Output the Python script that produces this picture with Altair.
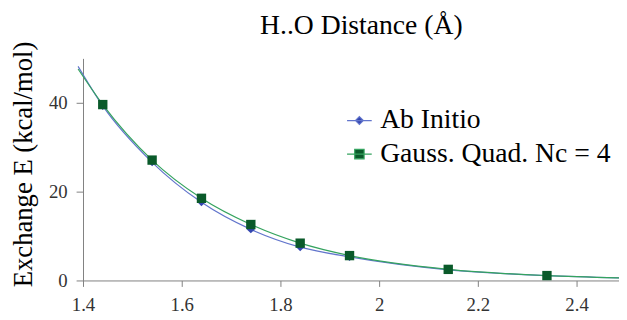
import altair as alt
import pandas as pd

# ---- data ----
x_points = [1.44, 1.54, 1.64, 1.74, 1.84, 1.94, 2.14, 2.34]
ab_initio = [39.3, 26.6, 17.6, 11.5, 7.5, 5.3, 2.4, 1.1]
gauss_quad = [39.6, 27.1, 18.5, 12.6, 8.4, 5.6, 2.5, 1.1]

# curve ends (lines run past the first / last markers)
line_start_x = 1.39
line_end_x = 2.486
ab_initio_ends = [48.2, 0.6]
gauss_quad_ends = [47.6, 0.6]

series_names = ["Ab Initio", "Gauss. Quad. Nc = 4"]
x_ticks = [1.4, 1.6, 1.8, 2.0, 2.2, 2.4]
y_ticks = [0, 20, 40]

# ---- tables ----
pts_rows = []
line_rows = []
for name, vals, ends in [(series_names[0], ab_initio, ab_initio_ends),
                         (series_names[1], gauss_quad, gauss_quad_ends)]:
    line_rows.append({"x": line_start_x, "y": ends[0], "series": name})
    for xv, yv in zip(x_points, vals):
        pts_rows.append({"x": xv, "y": yv, "series_m": name})
        line_rows.append({"x": xv, "y": yv, "series": name})
    line_rows.append({"x": line_end_x, "y": ends[1], "series": name})

pts = pd.DataFrame(pts_rows)
lines = pd.DataFrame(line_rows)
# legend-only rows (no position -> no mark drawn)
legend_rows = alt.Data(values=[{"x": None, "y": None, "series_l": n} for n in series_names])

FONT = "Liberation Serif"
line_colors = ["#6275cc", "#35a35f"]
marker_colors = ["#3446b0", "#0a5a2a"]
marker_paths = ["M0,-0.85L0.85,0L0,0.85L-0.85,0Z", "M-1,-1H1V1H-1Z"]
legend_paths = ["M-1,0H1M0,-0.32L0.32,0L0,0.32L-0.32,0Z",
                "M-1,0H1M-0.38,-0.38H0.38V0.38H-0.38Z"]

x_enc = alt.X("x:Q",
              scale=alt.Scale(domain=[1.4, line_end_x], nice=False, zero=False),
              axis=alt.Axis(values=x_ticks, format="~g", title=None, grid=False,
                            tickSize=6, labelPadding=9, labelFont=FONT,
                            labelFontSize=19, labelColor="#333333",
                            domainColor="#808080", tickColor="#808080",
                            labelFlush=False, labelOverlap=False))
y_enc = alt.Y("y:Q",
              scale=alt.Scale(domain=[0, 50], nice=False),
              axis=alt.Axis(values=y_ticks, grid=False, tickSize=7, labelPadding=9,
                            labelFont=FONT, labelFontSize=19, labelColor="#333333",
                            domainColor="#808080", tickColor="#808080",
                            title="Exchange E (kcal/mol)", titleFont=FONT,
                            titleFontSize=27, titleFontWeight="normal",
                            titleColor="black", titleAngle=270, titleX=-60,
                            titleY=107, titleAlign="center", titleBaseline="middle"))

line_layer = alt.Chart(lines).mark_line(clip=False, strokeWidth=1.2, interpolate="monotone").encode(
    x=x_enc, y=y_enc,
    stroke=alt.Stroke("series:N", scale=alt.Scale(range=line_colors), legend=None),
)

point_layer = alt.Chart(pts).mark_point(filled=True, size=90, opacity=1, clip=False).encode(
    x="x:Q", y="y:Q",
    fill=alt.Fill("series_m:N", scale=alt.Scale(range=marker_colors), legend=None),
    shape=alt.Shape("series_m:N", scale=alt.Scale(range=marker_paths), legend=None),
)

legend_def = alt.Legend(orient="none", legendX=266, legendY=49, title=None,
                        symbolSize=625, symbolStrokeWidth=1.2, symbolOpacity=1,
                        labelFont=FONT, labelFontSize=28, labelColor="black",
                        labelOffset=7, rowPadding=6, padding=0, labelLimit=400)
legend_layer = alt.Chart(legend_rows).mark_point(filled=True, opacity=1, strokeWidth=1.2).encode(
    x="x:Q", y="y:Q",
    fill=alt.Fill("series_l:N", scale=alt.Scale(domain=series_names, range=marker_colors),
                  legend=legend_def),
    stroke=alt.Stroke("series_l:N", scale=alt.Scale(domain=series_names, range=line_colors),
                      legend=legend_def),
    shape=alt.Shape("series_l:N", scale=alt.Scale(domain=series_names, range=legend_paths),
                    legend=legend_def),
)

chart = alt.layer(line_layer, point_layer, legend_layer).resolve_scale(
    stroke="independent", fill="independent", shape="independent"
).properties(
    width=543, height=225,
    title=alt.TitleParams("H..O Distance (Å)", font=FONT, fontSize=28,
                          fontWeight="normal", color="black", anchor="middle",
                          offset=1, dx=10.5),
    autosize=alt.AutoSizeParams(type="none"),
    padding={"left": 76, "top": 49, "right": 0, "bottom": 38},
    background="white",
).configure_view(stroke=None).configure_axis(labelFont=FONT, titleFont=FONT)

chart.save("out.html", embed_options={"renderer": "svg", "actions": False})
